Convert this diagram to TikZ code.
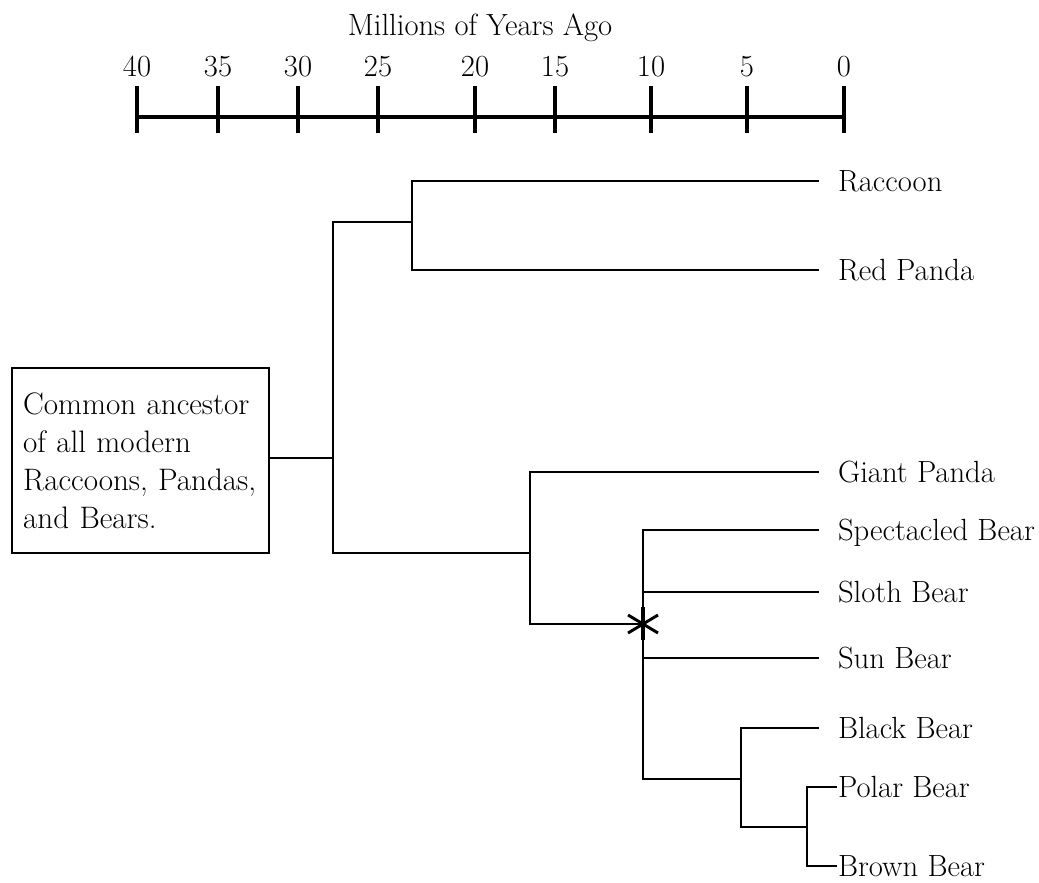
\documentclass[tikz,border=0pt]{standalone}
\usepackage{fontspec}
\begin{document}
\begin{tikzpicture}[x=0.75pt,y=-0.75pt,
  every node/.style={font=\fontsize{23pt}{28.5pt}\selectfont, inner sep=0pt},
  branch/.style={line width=2.1pt, line join=miter, line cap=butt},
  axisline/.style={line width=3.7pt},
  tickline/.style={line width=3.5pt},
  num/.style={anchor=base},
  leaf/.style={anchor=west, text height=15.7pt, text depth=0pt, outer xsep=14.25pt},
  leafnear/.style={anchor=west, text height=15.7pt, text depth=0pt, outer xsep=0.75pt},
  ancbox/.style={draw, line width=2pt, align=left, text width=176pt,
    font=\fontsize{23.3pt}{28.5pt}\selectfont,
    minimum width=192.75pt, minimum height=138.75pt, inner xsep=8.375pt},
  startick/.style={line width=2.2pt}
]
\useasboundingbox (0,0) rectangle (1039,882);

% title and scale
\node[anchor=base] (title) at (480,35) {Millions of Years Ago};
\foreach \v/\x in {40/137,35/218,30/298,25/378,20/475,15/555,10/651,5/747,0/844}{
  \coordinate (t\v) at (\x,117);
  \node[num] (l\v) at (\x,76) {\v};
  \draw[tickline] ([yshift=23.25pt]t\v) -- ([yshift=-12pt]t\v);
}
\draw[axisline] (t40) -- (t0);

% leaves
\node[leaf] (raccoon) at (819,181) {Raccoon};
\node[leaf] (redpanda) at (819,270) {Red Panda};
\node[leaf] (giant) at (819,472) {Giant Panda};
\node[leaf] (spect) at (819,530) {Spectacled Bear};
\node[leaf] (sloth) at (819,592) {Sloth Bear};
\node[leaf] (sun) at (819,658) {Sun Bear};
\node[leaf] (black) at (819,728) {Black Bear};
\node[leafnear] (polar) at (837,787) {Polar Bear};
\node[leafnear] (brown) at (837,866) {Brown Bear};

% ancestor box
\node[ancbox] (anc) at (140.5,460.5) {Common ancestor\\of all modern\\Raccoons, Pandas,\\and Bears.};

% junctions
\coordinate (n0) at (333,458);
\coordinate (nA) at (412,222);
\coordinate (nB) at (530,553);
\coordinate (nC) at (643,624);
\coordinate (nD) at (741,779);
\coordinate (nE) at (807,827);

% branches
\draw[branch] (anc.east |- n0) -- (n0);
\draw[branch] (raccoon.west) -- (raccoon.west -| nA) -- (redpanda.west -| nA) -- (redpanda.west);
\draw[branch] (nA) -- (nA -| n0) -- (nB -| n0) -- (nB);
\draw[branch] (giant.west) -- (giant.west -| nB) -- (nC -| nB) -- (nC);
\draw[branch] (spect.west) -- (spect.west -| nC) -- (nD -| nC) -- (nD);
\draw[branch] (sloth.west -| nC) -- (sloth.west);
\draw[branch] (sun.west -| nC) -- (sun.west);
\draw[branch] (black.west) -- (black.west -| nD) -- (nE -| nD) -- (nE);
\draw[branch] (polar.west) -- (polar.west -| nE) -- (brown.west -| nE) -- (brown.west);

% asterisk marker at the bear split
\draw[startick, shift={(nC)}] (-15,-9) -- (15,9) (-15,9) -- (15,-9);
\draw[line width=3pt, shift={(nC)}] (0,-17) -- (0,16);
\end{tikzpicture}
\end{document}
